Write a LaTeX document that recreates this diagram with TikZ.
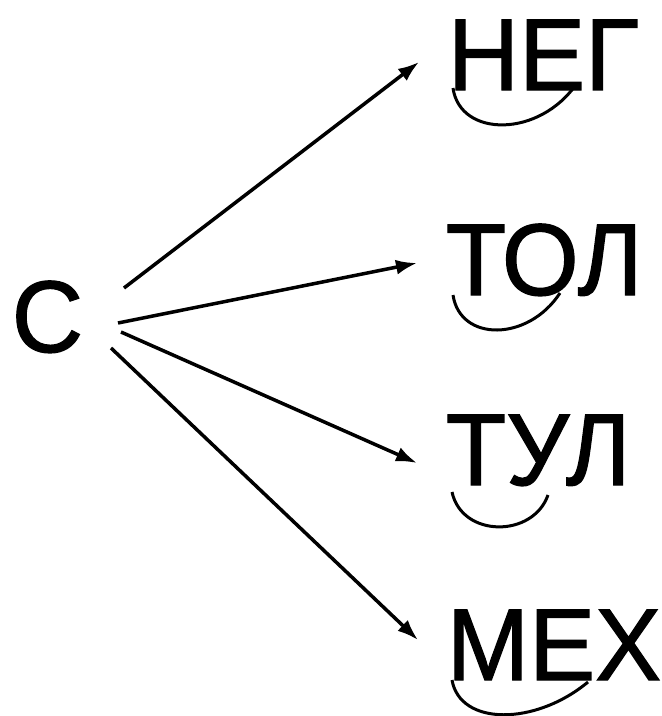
\documentclass[tikz,border=0pt]{standalone}
\usepackage{fontspec}
\setmainfont[FakeBold=1.2,FakeStretch=0.97]{Liberation Sans}
\usetikzlibrary{arrows.meta}
\begin{document}
\begin{tikzpicture}[x=1pt,y=-1pt,>={Latex[length=21pt,width=15pt]},line width=3.5pt,
	word/.style={inner sep=0pt,anchor=base west,font=\fontsize{102}{102}\selectfont}]
\useasboundingbox (0,0) rectangle (662,716);
\node[word] (c) at (10,352) {С};
\node[word] (neg) at (446,90) {НЕГ};
\node[word] (tol) at (444,295) {ТОЛ};
\node[word] (tul) at (444,485) {ТУЛ};
\node[word] (meh) at (445,680) {МЕХ};
% arrow ends
\coordinate (c1) at (124,288);
\coordinate (c2) at (118,323);
\coordinate (c3) at (121,332);
\coordinate (c4) at (111,348);
\coordinate (neg-in) at (419,62);
\coordinate (tol-in) at (417,263);
\coordinate (tul-in) at (417,463);
\coordinate (meh-in) at (418,640);
\draw[->] (c1) -- (neg-in);
\draw[->] (c2) -- (tol-in);
\draw[->] (c3) -- (tul-in);
\draw[->] (c4) -- (meh-in);
% syllable arcs
\draw[line width=3pt] (453,88) .. controls (460,138) and (540,138) .. (577,83);
\draw[line width=3pt] (453,295) .. controls (460,342) and (528,342) .. (560,293);
\draw[line width=3pt] (452,492) .. controls (462,538) and (533,538) .. (548,495);
\draw[line width=3pt] (452,680) .. controls (460,726) and (535,726) .. (588,682);
\end{tikzpicture}
\end{document}
